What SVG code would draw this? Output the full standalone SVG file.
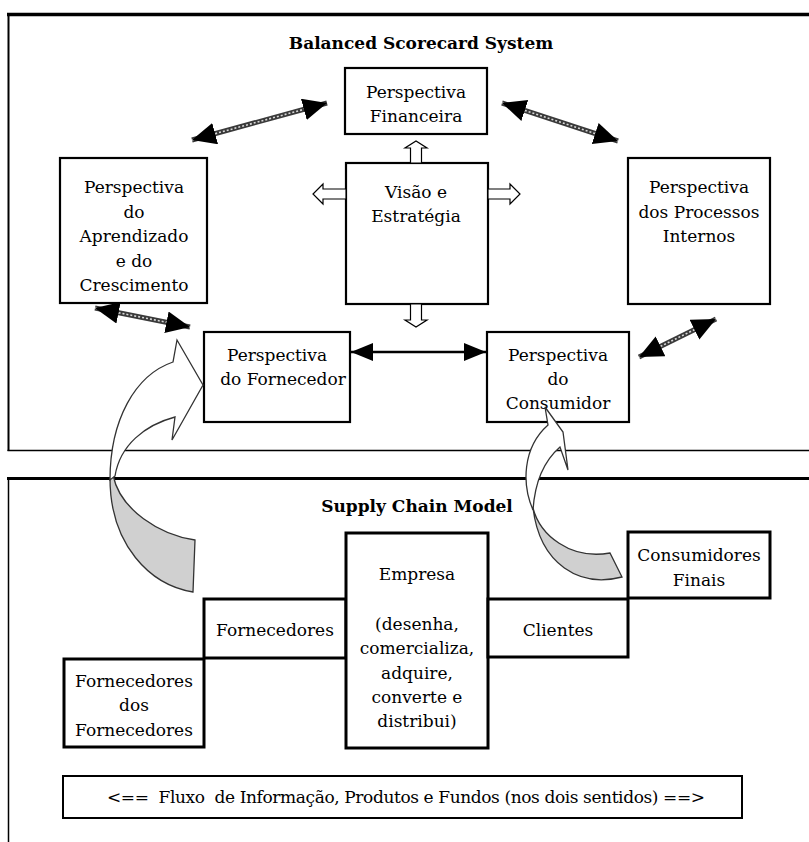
<svg xmlns="http://www.w3.org/2000/svg" width="809" height="842" viewBox="0 0 809 842">
  <defs>
    <style>
      .t { font-family: "DejaVu Serif", "Liberation Serif", serif; font-size: 17px; fill: #000; text-anchor: middle; }
      .h { font-family: "DejaVu Serif", "Liberation Serif", serif; font-size: 17px; font-weight: bold; fill: #000; text-anchor: middle; }
      .box { fill: #fff; stroke: #000; stroke-width: 2.2; }
      .sbox { fill: #fff; stroke: #000; stroke-width: 3; }
      .hollow { fill: #fff; stroke: #000; stroke-width: 1.2; stroke-linejoin: miter; }
      .rope { stroke: #3a3a3a; stroke-width: 5; fill: none; }
      .ropeIn { stroke: #d8d8d8; stroke-width: 1.6; stroke-dasharray: 2 2; fill: none; }
      .heads { stroke: none; fill: none; }
      .curveW { fill: #fff; stroke: #333; stroke-width: 1.3; }
      .curveG { fill: #d0d0d0; stroke: #333; stroke-width: 1.3; }
    </style>
    <marker id="head" markerUnits="userSpaceOnUse" markerWidth="26" markerHeight="24" refX="24" refY="11" orient="auto-start-reverse">
      <path d="M0,0 L24,11 L0,22 Z" fill="#000"/>
    </marker>
    <marker id="headS" markerUnits="userSpaceOnUse" markerWidth="24" markerHeight="20" refX="22" refY="9" orient="auto-start-reverse">
      <path d="M0,0 L22,9 L0,18 Z" fill="#000"/>
    </marker>
  </defs>

  <rect width="809" height="842" fill="#fff"/>

  <!-- frames of the two panels -->
  <g id="frames" fill="none" stroke="#000">
    <line x1="7" y1="14.5" x2="809" y2="14.5" stroke-width="3.5"/>
    <line x1="8.5" y1="13" x2="8.5" y2="451" stroke-width="2"/>
    <line x1="7.5" y1="450.5" x2="809" y2="450.5" stroke-width="1.5"/>
    <line x1="7" y1="478.5" x2="809" y2="478.5" stroke-width="3"/>
    <line x1="8.5" y1="477" x2="8.5" y2="842" stroke-width="1.5"/>
  </g>

  <text id="title-bsc" class="h" x="421" y="49">Balanced  Scorecard  System</text>
  <text id="title-scm" class="h" x="417" y="512">Supply  Chain  Model</text>

  <!-- Balanced Scorecard nodes -->
  <g id="financeira">
    <rect class="box" x="345" y="68" width="142" height="66"/>
    <text class="t" x="416" y="98">Perspectiva</text>
    <text class="t" x="416" y="122">Financeira</text>
  </g>
  <g id="visao">
    <rect class="box" x="346" y="163" width="142" height="141" stroke-width="2.6"/>
    <text class="t" x="416" y="198">Visão e</text>
    <text class="t" x="416" y="222">Estratégia</text>
  </g>
  <g id="aprendizado">
    <rect class="box" x="60" y="158" width="147" height="145"/>
    <text class="t" x="134" y="193">Perspectiva</text>
    <text class="t" x="134" y="217.5">do</text>
    <text class="t" x="134" y="242">Aprendizado</text>
    <text class="t" x="134" y="266.5">e do</text>
    <text class="t" x="134" y="291">Crescimento</text>
  </g>
  <g id="processos">
    <rect class="box" x="628" y="158" width="142" height="146"/>
    <text class="t" x="699" y="193">Perspectiva</text>
    <text class="t" x="699" y="217.5">dos Processos</text>
    <text class="t" x="699" y="242">Internos</text>
  </g>
  <g id="fornecedor">
    <text class="t" x="277" y="361">Perspectiva</text>
    <text class="t" x="283" y="385">do Fornecedor</text>
    <rect x="204" y="332" width="146" height="90" fill="none" stroke="#000" stroke-width="2.2"/>
  </g>
  <g id="consumidor">
    <rect class="box" x="487" y="332" width="142" height="90"/>
    <text class="t" x="558" y="361">Perspectiva</text>
    <text class="t" x="558" y="385">do</text>
    <text class="t" x="558" y="409">Consumidor</text>
  </g>

  <!-- Supply chain nodes -->
  <g id="forn-forn">
    <rect class="sbox" x="64" y="659" width="140" height="88"/>
    <text class="t" x="134" y="687">Fornecedores</text>
    <text class="t" x="134" y="711">dos</text>
    <text class="t" x="134" y="736">Fornecedores</text>
  </g>
  <g id="fornecedores">
    <rect class="sbox" x="204" y="599" width="142" height="59"/>
    <text class="t" x="275" y="636">Fornecedores</text>
  </g>
  <g id="empresa">
    <rect class="sbox" x="346" y="533" width="142" height="215"/>
    <text class="t" x="417" y="580">Empresa</text>
    <text class="t" x="417" y="630">(desenha,</text>
    <text class="t" x="417" y="654">comercializa,</text>
    <text class="t" x="417" y="679">adquire,</text>
    <text class="t" x="417" y="703">converte e</text>
    <text class="t" x="417" y="727">distribui)</text>
  </g>
  <g id="clientes">
    <rect class="sbox" x="488" y="599" width="140" height="58"/>
    <text class="t" x="558" y="636">Clientes</text>
  </g>
  <g id="consumidores">
    <rect class="sbox" x="628" y="532" width="142" height="66"/>
    <text class="t" x="699" y="561">Consumidores</text>
    <text class="t" x="699" y="586">Finais</text>
  </g>
  <g id="fluxo">
    <rect x="63" y="776" width="679" height="42" fill="#fff" stroke="#000" stroke-width="2"/>
    <text class="t" x="406" y="803" style="white-space:pre" textLength="598" lengthAdjust="spacing">&lt;==  Fluxo  de Informação, Produtos e Fundos (nos dois sentidos) ==&gt;</text>
  </g>

  <!-- connectors -->
  <g id="connectors">
    <!-- hollow block arrows out of Visão e Estratégia -->
    <polygon class="hollow" points="410.5,163 410.5,148 405,148 416,141 427,148 421.5,148 421.5,163"/>
    <polygon class="hollow" points="410.5,304 410.5,320 405,320 416,327 427,320 421.5,320 421.5,304"/>
    <polygon class="hollow" points="488,189 510,189 510,184 520,194 510,204 510,199 488,199"/>
    <polygon class="hollow" points="346,189 323,189 323,184 313,194 323,204 323,199 346,199"/>

    <!-- rope-style double arrows -->
    <line class="rope" x1="192" y1="140" x2="327" y2="103"/>
    <line class="ropeIn" x1="192" y1="140" x2="327" y2="103"/>
    <line class="heads" x1="192" y1="140" x2="327" y2="103" marker-start="url(#head)" marker-end="url(#head)"/>

    <line class="rope" x1="502" y1="103" x2="618" y2="141"/>
    <line class="ropeIn" x1="502" y1="103" x2="618" y2="141"/>
    <line class="heads" x1="502" y1="103" x2="618" y2="141" marker-start="url(#head)" marker-end="url(#head)"/>

    <line class="rope" x1="95" y1="308" x2="190" y2="327"/>
    <line class="ropeIn" x1="95" y1="308" x2="190" y2="327"/>
    <line class="heads" x1="95" y1="308" x2="190" y2="327" marker-start="url(#head)" marker-end="url(#head)"/>

    <line class="rope" x1="639" y1="357" x2="716" y2="319"/>
    <line class="ropeIn" x1="639" y1="357" x2="716" y2="319"/>
    <line class="heads" x1="639" y1="357" x2="716" y2="319" marker-start="url(#head)" marker-end="url(#head)"/>

    <!-- solid double arrow between supplier and customer perspectives -->
    <line x1="351" y1="352" x2="486" y2="352" stroke="#000" stroke-width="2.5" marker-start="url(#headS)" marker-end="url(#headS)"/>

    <!-- curved arrow: suppliers up to the supplier perspective -->
    <path class="curveG" d="M195,540 L193,592 C150,585 110,545 110,478 L113,475 C120,510 160,535 195,540 Z"/>
    <path class="curveW" d="M110,480 C110,420 135,375 173,362 L177,340 L203,385 L172,440 L175,417 C145,425 120,445 115,476 Z"/>

    <!-- curved arrow: end consumers up to the consumer perspective -->
    <path class="curveG" d="M533,508 C540,535 570,560 610,553 L622,577 C580,588 540,565 533,508 Z"/>
    <path class="curveW" d="M533,510 C522,485 522,448 548,425 L545,407 L563,432 L568,470 L560,447 C545,460 535,480 533,510 Z"/>
  </g>
</svg>
